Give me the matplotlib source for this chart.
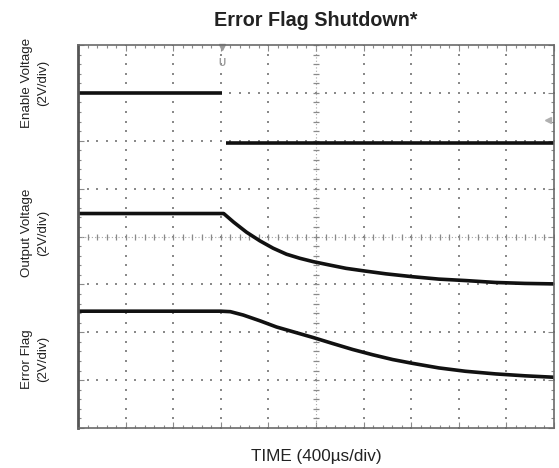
import numpy as np
import matplotlib
matplotlib.use("Agg")
import matplotlib.pyplot as plt

plt.rcParams['font.family'] = ['Liberation Sans', 'DejaVu Sans']

# Data in screen divisions (x: 0-10 div, 400us/div; y: 0-8 div, 2V/div)
enable_x = [0.0, 3.02, np.nan, 3.10, 10.0]
enable_y = [7.00, 7.00, np.nan, 5.95, 5.95]

vout_x = [0.0, 3.06, 3.27, 3.54, 3.82, 4.10, 4.38, 4.66, 4.94, 5.28, 5.63, 6.02, 6.47,
          7.03, 7.58, 8.14, 8.77, 9.39, 10.0]
vout_y = [4.48, 4.48, 4.30, 4.09, 3.91, 3.755, 3.63, 3.545, 3.475, 3.405, 3.335, 3.28, 3.22,
          3.16, 3.11, 3.08, 3.04, 3.02, 3.01]

flag_x = [0.0, 3.00, 3.20, 3.47, 3.82, 4.17, 4.52, 4.94, 5.35, 5.77, 6.19, 6.61, 7.03,
          7.58, 8.14, 8.77, 9.39, 10.0]
flag_y = [2.44, 2.44, 2.43, 2.36, 2.24, 2.11, 2.01, 1.89, 1.765, 1.64, 1.53, 1.43, 1.35,
          1.255, 1.185, 1.13, 1.09, 1.06]

title = "Error Flag Shutdown*"
xlabel = "TIME (400µs/div)"
ylabels = [("Enable Voltage\n(2V/div)", 83), ("Output Voltage\n(2V/div)", 233), ("Error Flag\n(2V/div)", 359)]

W, H = 559, 468
fig = plt.figure(figsize=(W / 100, H / 100), dpi=100)
L, R, T, B = 78, 554, 45, 428
ax = fig.add_axes([L / W, 1 - B / H, (R - L) / W, (B - T) / H])
ax.set_xlim(0, 10)
ax.set_ylim(0, 8)

grid_c = '#8a8a8a'
# dotted graticule
dots = np.arange(0, 10.01, 0.2)
dotsy = np.arange(0, 8.01, 0.2)
for k in range(1, 10):
    if k == 5:
        continue
    ax.plot(np.full_like(dotsy, k), dotsy, ls='none', marker='s', ms=1.5, color=grid_c, mew=0)
for k in range(1, 8):
    if k == 4:
        continue
    ax.plot(dots, np.full_like(dots, k), ls='none', marker='s', ms=1.5, color=grid_c, mew=0)
# center cross with ticks
ax.plot([0, 10], [4, 4], color='#a8a8a8', lw=0.8, ls=(0, (1, 2)))
ax.plot([5, 5], [0, 8], color='#a8a8a8', lw=0.8, ls=(0, (1, 2)))
ax.plot(dots, np.full_like(dots, 4), ls='none', marker='|', ms=5, color='#8a8a8a', mew=0.9)
ax.plot(np.full_like(dotsy, 5), dotsy, ls='none', marker='_', ms=5, color='#8a8a8a', mew=0.9)

# frame ticks
ax.set_xticks(np.arange(0, 11, 1))
ax.set_yticks(np.arange(0, 9, 1))
ax.set_xticks(dots, minor=True)
ax.set_yticks(dotsy, minor=True)
ax.tick_params(which='both', direction='in', top=True, right=True, labelbottom=False, labelleft=False,
               color='#8a8a8a', width=0.8)
ax.tick_params(which='major', length=4)
ax.tick_params(which='minor', length=2.5)
for s in ax.spines.values():
    s.set_color('#6a6a6a')
    s.set_linewidth(1.2)
ax.spines['left'].set_linewidth(2.0)
ax.spines['left'].set_color('#555555')

# traces
tc = '#111111'
ax.plot(enable_x, enable_y, color=tc, lw=2.6, solid_capstyle='butt')
ax.plot(vout_x, vout_y, color=tc, lw=2.6, solid_joinstyle='round')
ax.plot(flag_x, flag_y, color=tc, lw=2.6, solid_joinstyle='round')

# scope markers
ax.plot([3.03], [7.95], marker='v', ms=4, color='#9a9a9a', clip_on=False)
ax.text(3.03, 7.62, 'U', color='#9a9a9a', fontsize=7, ha='center', va='center', fontweight='bold')
ax.plot([9.88], [6.43], marker='<', ms=4, color='#b0b0b0')

fig.text(316 / W, 1 - 20 / H, title, ha='center', va='center', fontsize=14.2, fontweight='bold', color='#222222')
fig.text(316 / W, 1 - 457 / H, xlabel, ha='center', va='center', fontsize=12.3, color='#222222')
for txt, yc in ylabels:
    fig.text(35 / W, 1 - yc / H, txt, ha='center', va='center', rotation=90, fontsize=9.6,
             color='#222222', linespacing=1.45, multialignment='center')

fig.savefig('out.png', dpi=100)
